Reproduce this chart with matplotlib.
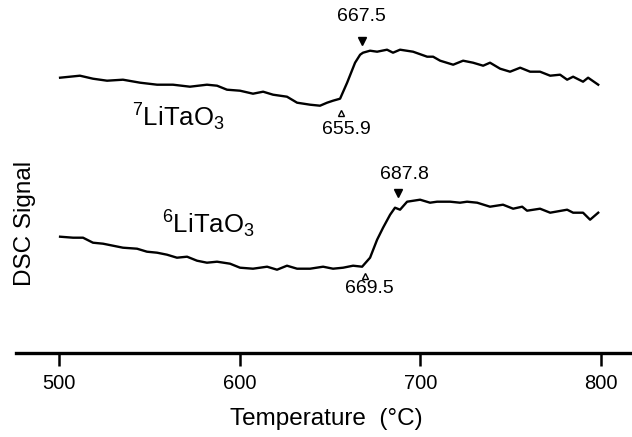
import matplotlib
matplotlib.use("Agg")
import matplotlib.pyplot as plt

plt.rcParams["font.family"] = ["Liberation Sans", "DejaVu Sans"]
plt.rcParams["mathtext.fontset"] = "custom"
plt.rcParams["mathtext.rm"] = "Liberation Sans"
plt.rcParams["mathtext.it"] = "Liberation Sans"
plt.rcParams["mathtext.bf"] = "Liberation Sans"

# 7LiTaO3 trace (temperature in degC, DSC signal in arbitrary units)
temp_7 = [500.6, 511.6, 518.8, 526.6, 535.4, 544.9, 554.3, 563.1, 572.5, 581.9,
          587.5, 593.0, 600.2, 607.4, 613.0, 618.5, 626.2, 631.8, 639.0, 644.5,
          648.4, 651.7, 655.6, 659.5, 663.9, 666.7, 668.3, 672.2, 676.1, 681.6,
          684.9, 688.8, 696.0, 703.8, 707.1, 711.0, 718.2, 723.7, 729.2, 734.8,
          738.6, 744.2, 749.7, 755.3, 760.8, 766.3, 771.9, 777.4, 781.3, 784.6,
          790.1, 792.9, 798.5]
signal_7 = [27.5, 27.7, 27.4, 27.2, 27.3, 27.0, 26.8, 26.8, 26.6, 26.8,
            26.7, 26.3, 26.2, 25.9, 26.1, 25.8, 25.6, 25.0, 24.8, 24.7,
            25.0, 25.2, 25.4, 27.0, 29.0, 29.8, 30.0, 30.2, 30.1, 30.3,
            30.0, 30.3, 30.1, 29.6, 29.6, 29.2, 28.8, 29.2, 29.0, 28.7,
            29.0, 28.4, 28.1, 28.5, 28.1, 28.1, 27.7, 27.8, 27.3, 27.6,
            27.1, 27.5, 26.8]

# 6LiTaO3 trace
temp_6 = [500.6, 507.8, 513.3, 518.8, 524.4, 529.9, 535.4, 543.2, 548.7, 554.3,
          559.8, 565.3, 570.9, 576.4, 581.9, 587.5, 594.7, 600.2, 607.4, 615.2,
          620.7, 626.2, 631.8, 639.0, 646.2, 651.7, 657.3, 662.8, 667.8, 672.2,
          676.1, 679.4, 683.3, 686.0, 688.8, 692.7, 699.9, 705.4, 709.3, 716.5,
          722.0, 725.9, 731.5, 738.6, 745.8, 751.4, 756.4, 759.1, 766.3, 771.9,
          781.3, 784.6, 790.1, 794.0, 798.5]
signal_6 = [11.6, 11.5, 11.5, 11.0, 10.9, 10.7, 10.5, 10.4, 10.1, 10.0,
            9.8, 9.5, 9.6, 9.2, 9.0, 9.1, 8.9, 8.5, 8.4, 8.6,
            8.3, 8.7, 8.4, 8.4, 8.6, 8.4, 8.5, 8.7, 8.6, 9.5,
            11.3, 12.5, 13.8, 14.5, 14.3, 15.1, 15.3, 15.0, 15.1, 15.1,
            15.0, 15.1, 15.0, 14.6, 14.8, 14.4, 14.6, 14.2, 14.4, 14.0,
            14.3, 14.0, 14.0, 13.3, 14.0]

# onset (open) and end (filled) temperatures of the transition
onset_7, end_7 = 655.9, 667.5
onset_6, end_6 = 669.5, 687.8

ticks = [500, 600, 700, 800]

fig = plt.figure(figsize=(6.32, 4.37), dpi=100)
ax = fig.add_axes([16 / 632, 84.3 / 437, 1 - 16 / 632, 352.7 / 437])
ax.set_xlim(476.2, 817.2)
ax.set_ylim(0, 35.27)

ax.plot(temp_7, signal_7, color="black", lw=1.7, solid_joinstyle="round")
ax.plot(temp_6, signal_6, color="black", lw=1.7, solid_joinstyle="round")

# transition markers and their labels
ax.plot([end_7], [31.2], marker="v", ms=6, color="black", ls="none")
ax.plot([onset_7], [24.0], marker="^", ms=5, mfc="white", mec="black",
        mew=1.0, ls="none")
ax.plot([end_6], [16.0], marker="v", ms=6, color="black", ls="none")
ax.plot([onset_6], [7.7], marker="^", ms=5, mfc="white", mec="black",
        mew=1.0, ls="none")

num_kw = dict(fontsize=14, ha="center", va="center")
ax.text(end_7, 33.6, f"{end_7}", **num_kw)
ax.text(onset_7 + 3, 22.3, f"{onset_7}", **num_kw)
ax.text(end_6 + 3.5, 17.8, f"{end_6}", **num_kw)
ax.text(onset_6 + 2.5, 6.4, f"{onset_6}", **num_kw)

ax.text(540.4, 22.6, r"$^7$LiTaO$_3$", fontsize=18.5, ha="left", va="baseline")
ax.text(557.0, 11.9, r"$^6$LiTaO$_3$", fontsize=18.5, ha="left", va="baseline")

for side in ["top", "right", "left"]:
    ax.spines[side].set_visible(False)
ax.spines["bottom"].set_linewidth(2.4)
ax.set_yticks([])
ax.set_xticks(ticks)
ax.tick_params(axis="x", direction="out", length=9, width=1.8,
               labelsize=14.5, pad=6)

fig.text(25 / 632, 1 - 223 / 437, "DSC Signal", rotation=90, fontsize=17.5,
         ha="center", va="center")
fig.text(326 / 632, 1 - 419 / 437, "Temperature  (°C)", fontsize=17.5,
         ha="center", va="center")

fig.savefig("out.png", dpi=100)
